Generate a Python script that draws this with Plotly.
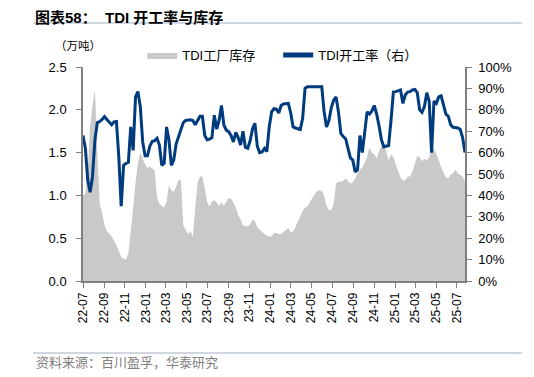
import pandas as pd
import plotly.graph_objects as go

# weekly observations, first week 2022-07-01
start_week = "2022-07-01"
n_weeks = 161
weeks = pd.date_range(start_week, periods=n_weeks, freq="7D")

# TDI factory inventory (10k tonnes, left axis)
inventory = [
    1.00, 1.02, 1.30, 1.80, 2.05, 2.23, 1.50, 0.90, 0.80, 0.65,
    0.58, 0.55, 0.52, 0.47, 0.42, 0.35, 0.28, 0.26, 0.25, 0.32,
    0.55, 0.85, 1.15, 1.38, 1.50, 1.42, 1.36, 1.32, 1.34, 1.31,
    1.30, 0.98, 0.90, 0.88, 0.86, 0.93, 1.12, 1.06, 1.04, 1.10,
    1.18, 1.18, 0.65, 0.60, 0.55, 0.58, 0.52, 0.85, 1.15, 1.22,
    1.22, 1.08, 0.92, 0.87, 0.93, 0.94, 0.92, 0.88, 0.92, 0.88,
    0.93, 0.97, 0.96, 0.92, 0.86, 0.77, 0.72, 0.65, 0.64, 0.64,
    0.66, 0.72, 0.70, 0.63, 0.60, 0.57, 0.55, 0.53, 0.52, 0.52,
    0.56, 0.56, 0.55, 0.55, 0.57, 0.60, 0.62, 0.57, 0.58, 0.63,
    0.70, 0.76, 0.82, 0.86, 0.87, 0.92, 0.97, 1.01, 1.05, 1.06,
    1.05, 1.00, 0.88, 0.83, 0.83, 0.90, 1.14, 1.16, 1.16, 1.17,
    1.20, 1.17, 1.14, 1.15, 1.20, 1.26, 1.30, 1.33, 1.38, 1.45,
    1.56, 1.50, 1.48, 1.43, 1.52, 1.57, 1.58, 1.52, 1.41, 1.48,
    1.45, 1.36, 1.28, 1.21, 1.17, 1.18, 1.22, 1.22, 1.28, 1.37,
    1.46, 1.45, 1.40, 1.43, 1.41, 1.45, 1.53, 1.55, 1.49, 1.41,
    1.33, 1.26, 1.21, 1.20, 1.24, 1.26, 1.30, 1.26, 1.24, 1.22,
    1.16,
]

# TDI operating rate (%, right axis)
op_rate = [
    68, 62, 47, 41.5, 49, 66, 74, 74.5, 75.5, 76.8,
    75.5, 74, 73, 74.3, 74.5, 58, 35, 54, 55, 55.5,
    72, 61, 86, 88.5, 81.5, 65, 58.5, 58.5, 63, 65.3,
    65.5, 66.7, 63.5, 54, 55, 72, 66, 54, 56.5, 64,
    67, 70.5, 74, 75, 75.3, 75.3, 75, 73, 75, 77,
    77, 68, 66, 66.3, 67, 77.5, 71, 75, 82, 73,
    70.5, 69.8, 68, 65, 69.5, 67, 63.5, 70, 62.5, 62,
    65.5, 71, 73.7, 63, 60, 60.3, 62, 60.5, 72, 79,
    80.5, 80.3, 78.5, 82, 82.7, 82.7, 83, 78.5, 72, 71.5,
    71, 70.8, 76, 90, 90.8, 90.8, 90.8, 90.8, 90.8, 90.8,
    90.8, 79, 72, 75, 81, 84.5, 86, 79, 69, 67.5,
    66.5, 62, 57.5, 56.5, 51, 52, 68, 60, 71, 79,
    78, 79.5, 82, 78, 72.5, 66, 62.7, 63, 63.3, 75,
    88.3, 88.5, 89, 89.3, 83, 87, 88.3, 88.5, 89.3, 89.5,
    88, 80, 78.8, 81.5, 88, 84, 60, 84, 83, 86,
    86.5, 82, 78, 77, 73, 71.8, 71.7, 71.5, 70.8, 67,
    60,
]

series_names = ["TDI工厂库存", "TDI开工率（右）"]
title_text = "图表58：  TDI 开工率与库存"
unit_text = "（万吨）"
source_text = "资料来源：百川盈孚，华泰研究"

FONT = "Liberation Sans, Arial, Noto Sans CJK SC, sans-serif"
AXIS_COLOR = "#808080"

# page offset (body margin) in the screenshot
OFF = 8

fig = go.Figure()
fig.add_trace(go.Scatter(
    x=weeks, y=inventory, name=series_names[0], mode="lines",
    line=dict(width=0, color="#C9C9C9"), fill="tozeroy", fillcolor="#C9C9C9",
    yaxis="y",
))
fig.add_trace(go.Scatter(
    x=weeks, y=op_rate, name=series_names[1], mode="lines",
    line=dict(width=3, color="#003B7E"), yaxis="y2",
))

# plot area in screenshot pixels
PL, PR, PT, PB = 83, 465, 67, 281
W, H = 534, 377

fig.update_layout(
    width=W, height=H, autosize=False,
    margin=dict(l=PL - OFF, r=W - (PR - OFF), t=PT - OFF, b=H - (PB - OFF), pad=0),
    paper_bgcolor="white", plot_bgcolor="white",
    font=dict(family=FONT, size=13, color="#000000"),
    showlegend=True,
    legend=dict(
        orientation="h", x=0.155, y=1.056, xanchor="left", yanchor="middle",
        font=dict(size=13, family=FONT, color="#000000"),
        bgcolor="rgba(0,0,0,0)", entrywidth=91, entrywidthmode="pixels",
        itemsizing="constant",
    ),
    xaxis=dict(
        type="date", range=[weeks[0], weeks[-1]],
        tick0="2022-07-01", dtick="M2", tickformat="%y-%m", tickangle=-90,
        showgrid=False, zeroline=False, showline=True, linecolor=AXIS_COLOR, linewidth=1.5,
        ticks="outside", ticklen=5, tickcolor=AXIS_COLOR, tickwidth=1,
        tickfont=dict(size=12, family=FONT, color="#000000"),
    ),
    yaxis=dict(
        range=[0, 2.5], dtick=0.5, tickformat=".1f",
        showgrid=False, zeroline=False, showline=True, linecolor=AXIS_COLOR, linewidth=1.5,
        ticks="outside", ticklen=5, tickcolor=AXIS_COLOR, tickwidth=1,
        tickfont=dict(size=13, family=FONT, color="#000000"), ticklabelstandoff=7,
    ),
    yaxis2=dict(
        range=[0, 100], dtick=10, ticksuffix="%", overlaying="y", side="right",
        showgrid=False, zeroline=False, showline=True, linecolor=AXIS_COLOR, linewidth=1.5,
        ticks="outside", ticklen=5, tickcolor=AXIS_COLOR, tickwidth=1,
        tickfont=dict(size=13, family=FONT, color="#000000"), ticklabelstandoff=4,
    ),
)

pw, ph = PR - PL, PB - PT
def px(x):
    return (x - PL) / pw
def py(y):
    return (PB - y) / ph

for yy in (23, 353):
    fig.add_shape(type="line", xref="paper", yref="paper",
                  x0=px(33), x1=px(522), y0=py(yy), y1=py(yy),
                  line=dict(color="#9FB0C4", width=1))

fig.add_annotation(text="<b>" + title_text + "</b>", xref="paper", yref="paper",
                   x=px(34), y=py(OFF), xanchor="left", yanchor="top", showarrow=False,
                   borderpad=0,
                   font=dict(size=15, family=FONT, color="#000000"))
fig.add_annotation(text=unit_text, xref="paper", yref="paper",
                   x=px(78), y=py(46), xanchor="center", yanchor="middle", showarrow=False,
                   font=dict(size=11.5, family=FONT, color="#000000"))
fig.add_annotation(text=source_text, xref="paper", yref="paper",
                   x=px(34), y=py(362), xanchor="left", yanchor="middle", showarrow=False,
                   font=dict(size=13, family=FONT, color="#808080"))

fig.write_html("out.html")
